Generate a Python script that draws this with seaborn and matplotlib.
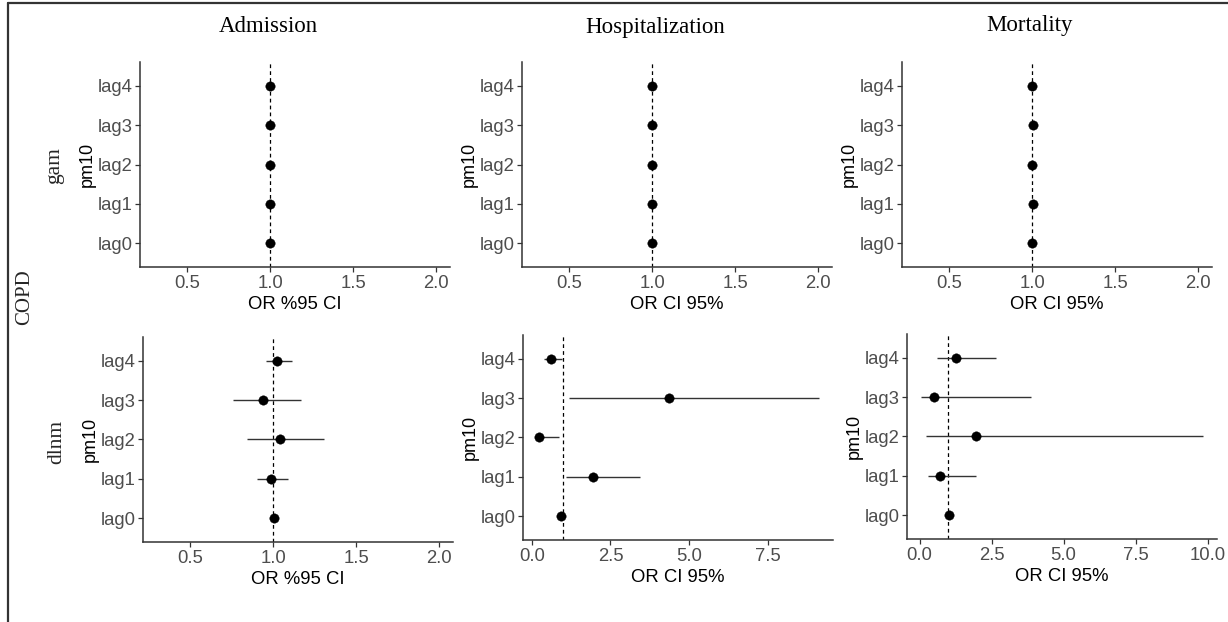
import numpy as np
import pandas as pd
import matplotlib
matplotlib.use("Agg")
import matplotlib.pyplot as plt
from matplotlib.lines import Line2D
import seaborn as sns

# ---------------- data ----------------
lags = ["lag0", "lag1", "lag2", "lag3", "lag4"]
outcomes = ["Admission", "Hospitalization", "Mortality"]
models = ["gam", "dlnm"]

gam_adm_or = [1.00, 1.00, 1.00, 1.00, 1.00]
gam_adm_lo = [0.995, 0.995, 0.995, 0.995, 0.995]
gam_adm_hi = [1.005, 1.005, 1.005, 1.005, 1.005]

gam_hosp_or = [1.002, 1.00, 1.00, 1.00, 1.00]
gam_hosp_lo = [0.997, 0.995, 0.995, 0.995, 0.995]
gam_hosp_hi = [1.007, 1.005, 1.005, 1.005, 1.005]

gam_mort_or = [0.999, 1.003, 0.999, 1.003, 0.999]
gam_mort_lo = [0.994, 0.998, 0.994, 0.998, 0.994]
gam_mort_hi = [1.004, 1.008, 1.004, 1.008, 1.004]

dlnm_adm_or = [1.004, 0.986, 1.044, 0.940, 1.026]
dlnm_adm_lo = [0.990, 0.900, 0.844, 0.760, 0.955]
dlnm_adm_hi = [1.020, 1.090, 1.306, 1.166, 1.114]

dlnm_hosp_or = [0.92, 1.94, 0.23, 4.36, 0.60]
dlnm_hosp_lo = [0.86, 1.08, 0.14, 1.19, 0.40]
dlnm_hosp_hi = [0.98, 3.44, 0.86, 9.12, 0.95]

dlnm_mort_or = [1.03, 0.72, 1.97, 0.50, 1.27]
dlnm_mort_lo = [0.95, 0.30, 0.23, 0.06, 0.60]
dlnm_mort_hi = [1.12, 1.97, 9.84, 3.87, 2.65]

x_labels = [["OR %95 CI", "OR CI 95%", "OR CI 95%"],
            ["OR %95 CI", "OR CI 95%", "OR CI 95%"]]
small_ticks = [0.5, 1.0, 1.5, 2.0]
hosp_ticks = [0.0, 2.5, 5.0, 7.5]
mort_ticks = [0.0, 2.5, 5.0, 7.5, 10.0]

panels = [
    [(gam_adm_or, gam_adm_lo, gam_adm_hi), (gam_hosp_or, gam_hosp_lo, gam_hosp_hi),
     (gam_mort_or, gam_mort_lo, gam_mort_hi)],
    [(dlnm_adm_or, dlnm_adm_lo, dlnm_adm_hi), (dlnm_hosp_or, dlnm_hosp_lo, dlnm_hosp_hi),
     (dlnm_mort_or, dlnm_mort_lo, dlnm_mort_hi)],
]
ticks_grid = [[small_ticks, small_ticks, small_ticks],
              [small_ticks, hosp_ticks, mort_ticks]]
xlims = [[(0.215, 2.085), (0.215, 2.085), (0.215, 2.085)],
         [(0.215, 2.085), (-0.28, 9.57), (-0.44, 10.33)]]

# ---------------- style ----------------
sns.set_theme(style="ticks")
plt.rcParams["font.family"] = ["Liberation Sans", "DejaVu Sans"]

W, H = 1228, 622
fig = plt.figure(figsize=(W / 100, H / 100), dpi=100)
fig.patch.set_facecolor("white")

# axes boxes in pixels: (left, right, top, bottom)
boxes = [
    [(140, 450, 62, 267), (522, 832, 62, 267), (902, 1212, 62, 267)],
    [(143, 453, 337, 542), (523, 833, 335, 540), (907, 1217, 334, 539)],
]

def px_ax(l, r, t, b):
    return fig.add_axes([l / W, 1 - b / H, (r - l) / W, (b - t) / H])

for i in range(2):
    for j in range(3):
        l, r, t, b = boxes[i][j]
        ax = px_ax(l, r, t, b)
        o, lo, hi = panels[i][j]
        df = pd.DataFrame({"lag": lags, "OR": o, "lo": lo, "hi": hi})
        xerr = [np.array(o) - np.array(lo), np.array(hi) - np.array(o)]
        ax.errorbar(df["OR"], df["lag"], xerr=xerr, fmt="none",
                     ecolor="#333333", elinewidth=1.0, capsize=0, zorder=2)
        ax.axvline(1.0, color="black", linestyle=(0, (3, 2.5)), linewidth=0.9, zorder=1)
        sns.scatterplot(data=df, x="OR", y="lag", ax=ax, color="black",
                        s=46, edgecolor="black", linewidth=0.3, zorder=3, legend=False)
        ax.set_ylim(-0.6, 4.6)
        ax.set_xlim(*xlims[i][j])
        tk = ticks_grid[i][j]
        ax.set_xticks(tk)
        ax.set_xticklabels([f"{v:.1f}" for v in tk])
        ax.set_xlabel(x_labels[i][j], fontsize=13.3, color="black", labelpad=3)
        ax.set_ylabel("pm10", fontsize=13, color="black", labelpad=1)
        for s in ["top", "right"]:
            ax.spines[s].set_visible(False)
        for s in ["left", "bottom"]:
            ax.spines[s].set_color("#333333")
            ax.spines[s].set_linewidth(1.1)
        ax.tick_params(axis="both", colors="#333333", length=3.5, width=0.9,
                       labelsize=13.3, labelcolor="#4D4D4D", pad=2)
        ax.grid(False)
        ax.set_facecolor("white")

serif = ["Liberation Serif", "DejaVu Serif"]
title_pos = [(268, 26), (655, 27), (1030, 26)]
for name, (x, y) in zip(outcomes, title_pos):
    fig.text(x / W, 1 - y / H, name, family=serif, fontsize=16.5,
             ha="center", va="center", color="black")

fig.text(55 / W, 1 - 166 / H, models[0], family=serif, fontsize=15.5,
         rotation=90, ha="center", va="center")
fig.text(57 / W, 1 - 442 / H, models[1], family=serif, fontsize=15.5,
         rotation=90, ha="center", va="center")
fig.text(25 / W, 1 - 297 / H, "COPD", family=serif, fontsize=15,
         rotation=90, ha="center", va="center")

# outer frame lines (left and top)
fig.add_artist(Line2D([8 / W, 8 / W], [0, 1 - 3 / H], color="#333333", linewidth=1.6))
fig.add_artist(Line2D([8 / W, 1], [1 - 3 / H, 1 - 3 / H], color="#333333", linewidth=1.6))

fig.savefig("out.png", dpi=100, facecolor="white")
